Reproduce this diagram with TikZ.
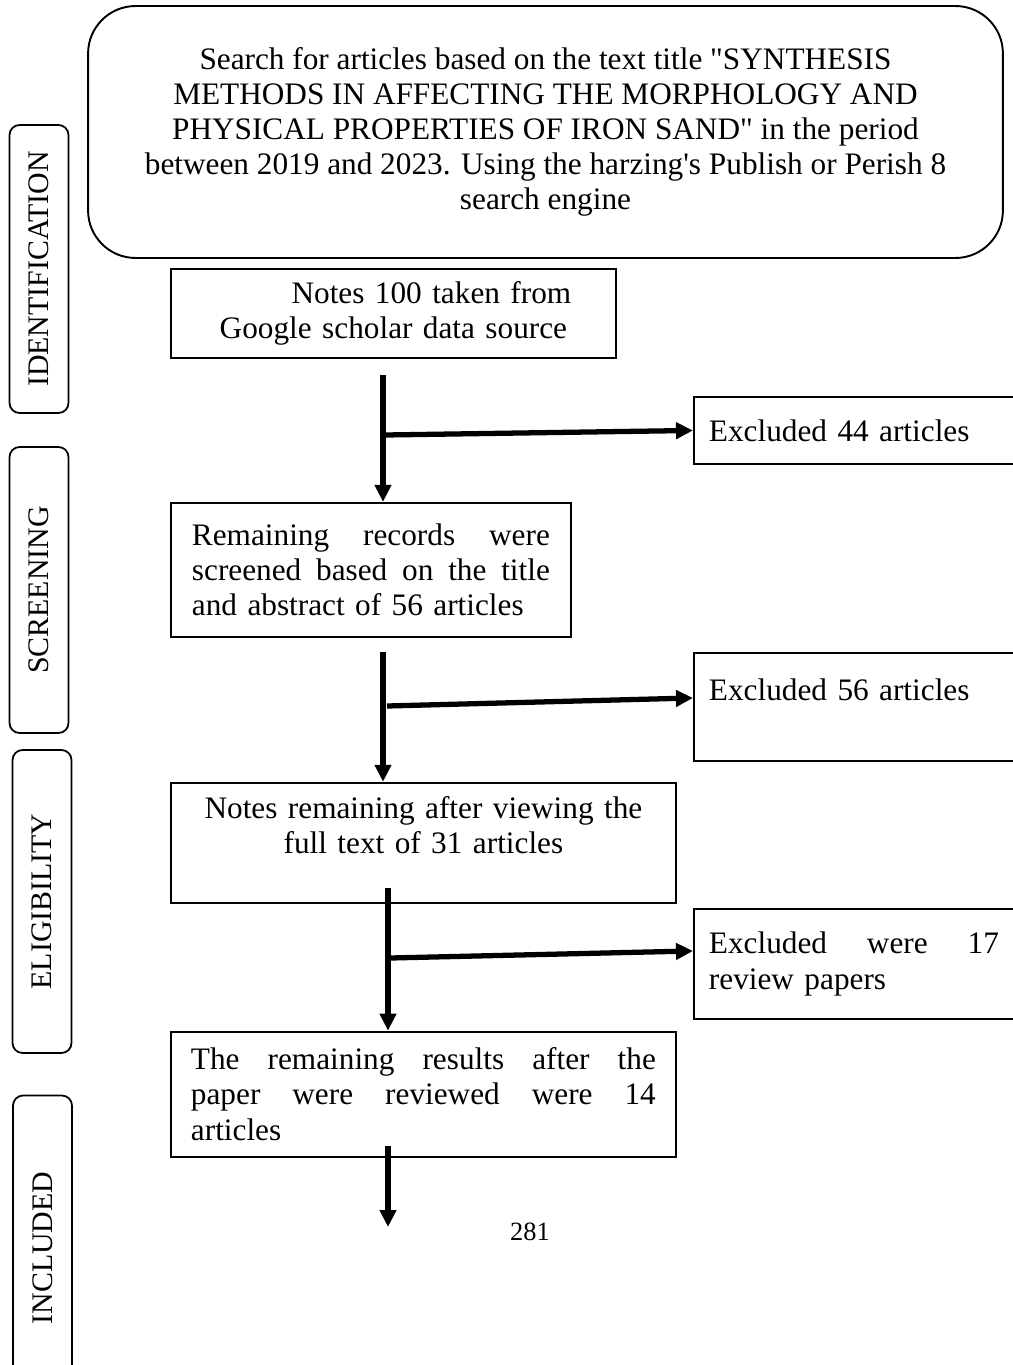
\documentclass[tikz,border=0pt]{standalone}
\usepackage{fontspec}
\setmainfont{Liberation Serif}
\usetikzlibrary{arrows.meta, positioning}
\tikzset{
  box/.style={rectangle,draw,line width=1.1pt,inner sep=0pt,font=\fontsize{17.8}{20}\selectfont},
  searchbox/.style={box,rounded corners=0.95cm,minimum width=18.3cm,minimum height=5.04cm,align=center},
  side/.style={box,anchor=north west,text width=5.8cm,inner xsep=0.3cm,align=left},
  stage/.style={rectangle,draw,line width=1pt,rounded corners=0.2cm,rotate=90,inner sep=0pt,minimum height=1.18cm,font=\fontsize{17}{20}\selectfont},
  line/.style={line width=3pt,-{Triangle[length=3.4mm,width=3.2mm]}}
}

\begin{document}
\begin{tikzpicture}[x=0.02cm, y=-0.02cm]
\useasboundingbox (0,0) rectangle (1013,1365);
% stages on the left
\node[stage, minimum width=5.76cm] (ident) at (39,269) {IDENTIFICATION};
\node[stage, minimum width=5.72cm] (screen) at (39,590) {SCREENING};
\node[stage, minimum width=6.06cm] (elig) at (42,901.5) {ELIGIBILITY};
\node[stage, minimum width=6.1cm] (incl) at (42.5,1248) {INCLUDED};
% main column
\node[searchbox] (search) at (545.5,132) {Search for articles based on the text title \textquotedbl SYNTHESIS\\
  METHODS IN AFFECTING THE MORPHOLOGY AND\\
  PHYSICAL PROPERTIES OF IRON SAND\textquotedbl{} in the period\\
  between 2019 and 2023. Using the harzing\textquotesingle s Publish or Perish 8\\
  search engine};
\node[box, anchor=north west, text width=8.9cm, minimum height=1.78cm, align=center] (notes) at (170,268)
  {\hspace*{1.52cm}Notes 100 taken from\\Google scholar data source};
\node[box, below=2.86cm of notes.south west, anchor=north west, text width=7.16cm, inner xsep=0.42cm, minimum height=2.68cm, align=left] (screened)
  {Remaining\hfill records\hfill were\\screened\hfill based\hfill on\hfill the\hfill title\\and abstract of 56 articles};
\node[box, below=2.88cm of screened.south west, anchor=north west, text width=10.1cm, minimum height=2.4cm, align=center] (fulltext)
  {Notes remaining after viewing the\\full text of 31 articles\\\mbox{}};
\node[box, below=2.54cm of fulltext.south west, anchor=north west, text width=9.3cm, inner xsep=0.4cm, minimum height=2.5cm, align=left] (included)
  {The\hfill remaining\hfill results\hfill after\hfill the\\paper\hfill were\hfill reviewed\hfill were\hfill 14\\articles};
% excluded boxes
\node[side, minimum height=1.34cm] (excl1) at (693,396) {Excluded 44 articles};
\node[side, minimum height=2.16cm] (excl2) at (693,652) {Excluded 56 articles\\\mbox{}};
\node[side, minimum height=2.2cm] (excl3) at (693,908) {Excluded\hfill were\hfill 17\\review papers};
\node[font=\fontsize{15}{17}\selectfont] (page) at (530,1232) {281};
% arrows
\coordinate (t1) at (383,375);
\coordinate (j1) at (385,435);
\coordinate (t2) at (383,652);
\coordinate (j2) at (387,706);
\coordinate (t3) at (388,888);
\coordinate (j3) at (390,958);
\coordinate (t4) at (388,1146);
\coordinate (e4) at (388,1227);
\draw[line] (t1) -- (t1 |- screened.north);
\draw[line] (j1) -- (excl1.west);
\draw[line] (t2) -- (t2 |- fulltext.north);
\draw[line] (j2) -- ([yshift=0.18cm]excl2.west);
\draw[line] (t3) -- (t3 |- included.north);
\draw[line] (j3) -- ([yshift=0.26cm]excl3.west);
\draw[line] (t4) -- (e4);
\end{tikzpicture}
\end{document}
